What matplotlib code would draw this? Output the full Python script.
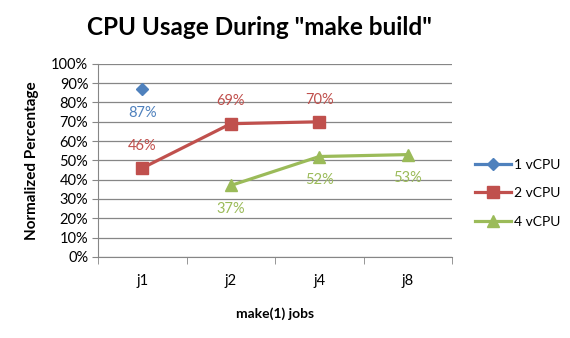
import numpy as np
import matplotlib
matplotlib.use("Agg")
import matplotlib.pyplot as plt

plt.rcParams['font.family'] = ['Lato', 'DejaVu Sans']

# data
jobs = ['j1', 'j2', 'j4', 'j8']
series_names = ['1 vCPU', '2 vCPU', '4 vCPU']
cpu1 = [87, np.nan, np.nan, np.nan]
cpu2 = [46, 69, 70, np.nan]
cpu4 = [np.nan, 37, 52, 53]
yticks = [0, 10, 20, 30, 40, 50, 60, 70, 80, 90, 100]

colors = ['#4F81BD', '#C0504D', '#9BBB59']
markers = ['D', 's', '^']
msizes = [6, 9, 9]
label_off = [-17, 16, -17]  # points, below/above the marker

fig = plt.figure(figsize=(5.7, 3.38), dpi=100)
ax = fig.add_axes([0.172, 0.240, 0.621, 0.571])

x = np.arange(len(jobs))
for vals, name, c, m, ms, off in zip([cpu1, cpu2, cpu4], series_names, colors, markers, msizes, label_off):
    ax.plot(x, vals, color=c, lw=2.3, marker=m, markersize=ms, label=name)
    for xi, v in zip(x, vals):
        if not np.isnan(v):
            ax.annotate('%d%%' % v, (xi, v), xytext=(0, off), textcoords='offset points',
                        ha='center', va='center', color=c, fontsize=10.5)

ax.set_xlim(-0.5, len(jobs) - 0.5)
ax.set_ylim(0, 100)
ax.set_yticks(yticks)
ax.set_yticklabels(['%d%%' % t for t in yticks], fontsize=10.5)
ax.set_xticks(x)
ax.set_xticklabels(jobs, fontsize=10.5)
ax.set_xticks(np.arange(-0.5, len(jobs)), minor=True)
ax.tick_params(axis='x', which='major', length=0, pad=12)
ax.tick_params(axis='x', which='minor', length=5, color='#868686', direction='out')
ax.tick_params(axis='y', length=4, color='#868686', direction='out', pad=3)
ax.grid(axis='y', color='#868686', lw=0.9)
ax.set_axisbelow(True)
for s in ['top', 'right']:
    ax.spines[s].set_visible(False)
for s in ['left', 'bottom']:
    ax.spines[s].set_color('#868686')

ax.set_xlabel('make(1) jobs', fontsize=10, fontweight='bold', labelpad=14)
ax.set_ylabel('Normalized Percentage', fontsize=11, fontweight='bold', labelpad=9)
fig.text(0.456, 0.918, 'CPU Usage During "make build"', ha='center', va='center',
         fontsize=17.5, fontweight='bold')

ax.legend(loc='center left', bbox_to_anchor=(1.03, 0.33), frameon=False, fontsize=10,
          handlelength=2.6, labelspacing=1.2, handletextpad=0.2)

fig.savefig('out.png', dpi=100)
